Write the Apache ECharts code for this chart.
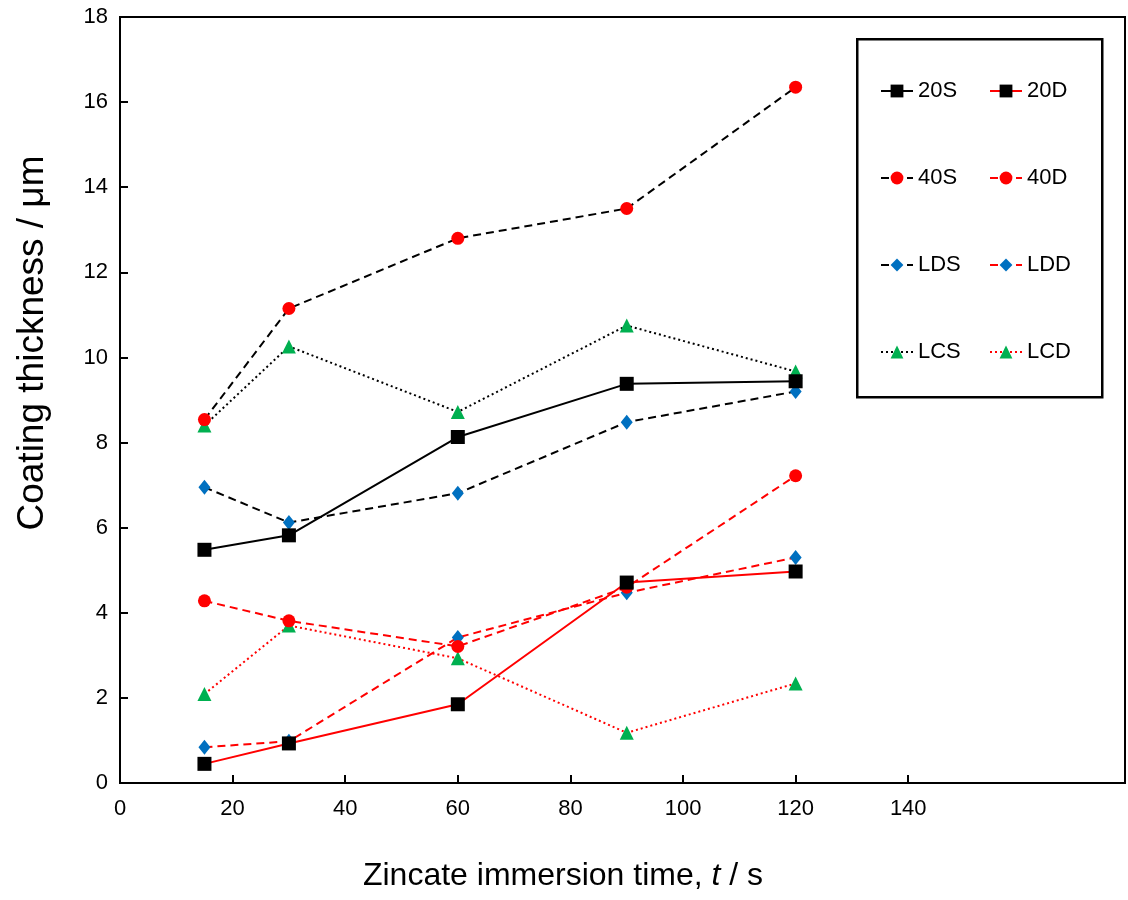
<!DOCTYPE html>
<html>
<head>
<meta charset="utf-8">
<script src="https://cdn.jsdelivr.net/npm/echarts@6/dist/echarts.min.js"></script>
<style>
html,body{margin:0;padding:0;background:#fff;}
#chart{width:1128px;height:900px;}
</style>
</head>
<body>
<div id="chart"></div>
<script>
// ---- data ----
const times = [15, 30, 60, 90, 120];
const s20S = [5.48, 5.82, 8.13, 9.38, 9.44];
const s20D = [0.45, 0.93, 1.85, 4.71, 4.97];
const s40S = [8.54, 11.15, 12.80, 13.50, 16.35];
const s40D = [4.28, 3.81, 3.21, 4.60, 7.22];
const sLDS = [6.95, 6.12, 6.81, 8.48, 9.20];
const sLDD = [0.84, 0.98, 3.42, 4.47, 5.30];
const sLCS = [8.40, 10.26, 8.72, 10.75, 9.67];
const sLCD = [2.09, 3.70, 2.93, 1.18, 2.34];
const xTickValues = [0, 20, 40, 60, 80, 100, 120, 140];
const xTitle = 'Zincate immersion time, {i|t} / s';
const yTitle = 'Coating thickness / μm';

const FONT = 'Liberation Sans, Arial, sans-serif';
const RED = '#FF0000', BLACK = '#000000', BLUE = '#0070C0', GREEN = '#00B050';
const pairs = ys => times.map((t, i) => [t, ys[i]]);

function mk(name, ys, lineColor, dash, symbol, symColor, size) {
  return {
    name, type: 'line', data: pairs(ys),
    symbol, symbolSize: size,
    lineStyle: { color: lineColor, width: 2, type: dash },
    itemStyle: { color: symColor },
    emphasis: { disabled: true },
    z: 2
  };
}
const DASH = [8, 5], DOT = [2, 3];
const series = [
  mk('LCD', sLCD, RED, DOT, 'triangle', GREEN, 14),
  mk('LCS', sLCS, BLACK, DOT, 'triangle', GREEN, 14),
  mk('LDD', sLDD, RED, DASH, 'diamond', BLUE, [12, 15]),
  mk('LDS', sLDS, BLACK, DASH, 'diamond', BLUE, [12, 15]),
  mk('40D', s40D, RED, DASH, 'circle', RED, 13),
  mk('40S', s40S, BLACK, DASH, 'circle', RED, 13),
  mk('20D', s20D, RED, 'solid', 'rect', BLACK, 14),
  mk('20S', s20S, BLACK, 'solid', 'rect', BLACK, 14)
];

const legendCommon = {
  orient: 'vertical', padding: 0, itemGap: 65,
  itemWidth: 32, itemHeight: 16,
  textStyle: { fontFamily: FONT, fontSize: 22, color: '#000' },
  selectedMode: false, top: 80
};

const chart = echarts.init(document.getElementById('chart'), null, { renderer: 'canvas' });
chart.setOption({
  animation: false,
  backgroundColor: '#fff',
  grid: { left: 120, top: 17, width: 1005, height: 766, show: true, borderColor: '#000', borderWidth: 2, containLabel: false },
  xAxis: {
    type: 'value', min: 0, max: 178.5,
    axisLine: { show: false },
    axisTick: { show: true, inside: true, length: 8, lineStyle: { color: '#000', width: 2 }, customValues: xTickValues },
    axisLabel: { customValues: xTickValues, fontFamily: FONT, fontSize: 22, color: '#000', margin: 15 },
    splitLine: { show: false }
  },
  yAxis: {
    type: 'value', min: 0, max: 18, interval: 2,
    axisLine: { show: false },
    axisTick: { show: true, inside: true, length: 8, lineStyle: { color: '#000', width: 2 } },
    axisLabel: { fontFamily: FONT, fontSize: 22, color: '#000', margin: 12 },
    splitLine: { show: false }
  },
  legend: [
    Object.assign({}, legendCommon, { left: 880, data: ['20S', '40S', 'LDS', 'LCS'] }),
    Object.assign({}, legendCommon, { left: 989, data: ['20D', '40D', 'LDD', 'LCD'] })
  ],
  graphic: [
    { type: 'rect', left: 856, top: 38, shape: { width: 245, height: 358 }, style: { fill: 'transparent', stroke: '#000', lineWidth: 2.5 }, z: 0 },
    { type: 'text', x: 563, y: 876, style: { text: xTitle, fontFamily: FONT, fontSize: 32, fill: '#000', align: 'center', verticalAlign: 'middle', rich: { i: { fontStyle: 'italic', fontFamily: FONT, fontSize: 32, fill: '#000' } } } },
    { type: 'text', x: 33, y: 343, rotation: Math.PI / 2, style: { text: yTitle, fontFamily: FONT, fontSize: 37, fill: '#000', align: 'center', verticalAlign: 'middle' } }
  ],
  series
});
</script>
</body>
</html>
